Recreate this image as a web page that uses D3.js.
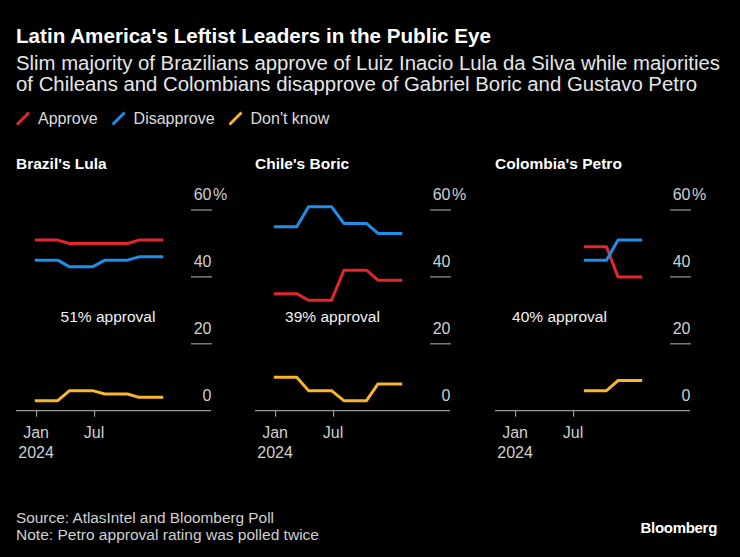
<!DOCTYPE html>
<html>
<head>
<meta charset="utf-8">
<script src="https://cdn.jsdelivr.net/npm/d3@7"></script>
<style>
  html, body { margin: 0; padding: 0; background: #000; }
  svg { display: block; font-family: "Liberation Sans", Arial, Helvetica, sans-serif; }
</style>
</head>
<body>
<svg id="chart" width="740" height="557"></svg>
<script>
// ---------------- data ----------------
const title = "Latin America's Leftist Leaders in the Public Eye";
const subtitleLines = [
  "Slim majority of Brazilians approve of Luiz Inacio Lula da Silva while majorities",
  "of Chileans and Colombians disapprove of Gabriel Boric and Gustavo Petro"
];
const seriesNames = ["Approve", "Disapprove", "Don't know"];
const seriesColors = ["#e3262a", "#1d8fe8", "#fbb52b"];
const panelTitles = ["Brazil's Lula", "Chile's Boric", "Colombia's Petro"];
const panelNotes = ["51% approval", "39% approval", "40% approval"];
// each poll drawn over its period [start, end]
const pollStarts = ["2023-12-28", "2024-04-15", "2024-08-04", "2024-11-19"];
const pollEnds   = ["2024-03-09", "2024-06-26", "2024-10-14", "2025-02-03"];
const brazilApprove    = [51, 50, 50, 51];
const brazilDisapprove = [45, 43, 45, 46];
const brazilDontKnow   = [3, 6, 5, 4];
const chileApprove     = [35, 33, 42, 39];
const chileDisapprove  = [55, 61, 56, 53];
const chileDontKnow    = [10, 6, 3, 8];
const colombiaApprove    = [null, null, 49, 40];
const colombiaDisapprove = [null, null, 45, 51];
const colombiaDontKnow   = [null, null, 6, 9];
const yTicks = [0, 20, 40, 60];
const xTickDates = ["2024-01-01", "2024-07-01"];
const xTickLabels = [["Jan", "2024"], ["Jul"]];
const xDomain = ["2023-10-30", "2025-07-03"];
const sourceText = "Source: AtlasIntel and Bloomberg Poll";
const noteText = "Note: Petro approval rating was polled twice";

// ---------------- layout ----------------
const panelData = [
  [brazilApprove, brazilDisapprove, brazilDontKnow],
  [chileApprove, chileDisapprove, chileDontKnow],
  [colombiaApprove, colombiaDisapprove, colombiaDontKnow]
];
const panelLefts = [16, 255, 495];
const panelW = 195;
const noteCenters = [92, 77.5, 64.5];
const subtitleWidths = [704, 681];
const parse = d3.timeParse("%Y-%m-%d");

const svg = d3.select("#chart");
svg.append("rect").attr("width", 740).attr("height", 557).attr("fill", "#000");

svg.append("text").attr("x", 16).attr("y", 43)
  .attr("fill", "#fff").attr("font-size", 20.5).attr("font-weight", "bold")
  .attr("textLength", 475).attr("lengthAdjust", "spacingAndGlyphs")
  .text(title);
subtitleLines.forEach((s, i) => {
  svg.append("text").attr("x", 16).attr("y", 69.5 + i * 21)
    .attr("fill", "#e6e6e6").attr("font-size", 19.5)
    .attr("textLength", subtitleWidths[i]).attr("lengthAdjust", "spacingAndGlyphs")
    .text(s);
});

// legend
const legend = svg.append("g");
let lx = 17;
seriesNames.forEach((n, i) => {
  legend.append("line").attr("x1", lx).attr("y1", 124.5).attr("x2", lx + 12).attr("y2", 112.5)
    .attr("stroke", seriesColors[i]).attr("stroke-width", 3);
  const t = legend.append("text").attr("x", lx + 21).attr("y", 123.5)
    .attr("fill", "#dcdcdc").attr("font-size", 16).text(n);
  lx += 21 + t.node().getComputedTextLength() + 15;
});

const x = d3.scaleTime().domain(xDomain.map(parse)).range([0, panelW]);
const y = d3.scaleLinear().domain([0, 60]).range([410.7, 210]);

panelData.forEach((series, p) => {
  const g = svg.append("g").attr("transform", `translate(${panelLefts[p]},0)`);
  g.append("text").attr("x", 0).attr("y", 169)
    .attr("fill", "#fff").attr("font-size", 15.5).attr("font-weight", "bold")
    .text(panelTitles[p]);

  // y ticks
  yTicks.forEach(v => {
    if (v !== 0) {
      g.append("line").attr("x1", 175).attr("x2", 196)
        .attr("y1", y(v)).attr("y2", y(v))
        .attr("stroke", "#9a9a9a").attr("stroke-width", 1.2);
    }
    g.append("text").attr("x", 195.5).attr("y", y(v) - 10)
      .attr("text-anchor", "end").attr("fill", "#cfcfcf").attr("font-size", 16)
      .text(v);
    if (v === 60) {
      g.append("text").attr("x", 197).attr("y", y(v) - 10)
        .attr("fill", "#cfcfcf").attr("font-size", 16).text("%");
    }
  });

  // x axis
  const axis = d3.axisBottom(x).tickValues(xTickDates.map(parse))
    .tickSize(6).tickFormat(() => "");
  const ag = g.append("g").attr("transform", `translate(0,${y(0)})`).call(axis);
  ag.select(".domain").attr("stroke", "#9a9a9a").attr("stroke-width", 1.2).attr("d", `M0,0H${panelW}`);
  ag.selectAll(".tick line").attr("stroke", "#9a9a9a").attr("stroke-width", 1.2);
  xTickDates.forEach((d, i) => {
    const t = g.append("text").attr("x", x(parse(d))).attr("y", 438)
      .attr("text-anchor", "middle").attr("fill", "#cfcfcf").attr("font-size", 16);
    xTickLabels[i].forEach((s, j) => {
      t.append("tspan").attr("x", x(parse(d))).attr("dy", j === 0 ? 0 : 20).text(s);
    });
  });

  // lines
  series.forEach((vals, si) => {
    const pts = [];
    vals.forEach((v, k) => {
      pts.push({ d: parse(pollStarts[k]), v });
      pts.push({ d: parse(pollEnds[k]), v });
    });
    const line = d3.line().defined(d => d.v !== null)
      .x(d => x(d.d)).y(d => y(d.v));
    g.append("path").attr("d", line(pts))
      .attr("fill", "none").attr("stroke", seriesColors[si])
      .attr("stroke-width", 3).attr("stroke-linejoin", "round");
  });

  g.append("text").attr("x", noteCenters[p]).attr("y", 322)
    .attr("text-anchor", "middle").attr("fill", "#f2f2f2").attr("font-size", 15.5)
    .text(panelNotes[p]);
});

// footer
svg.append("text").attr("x", 16).attr("y", 523).attr("fill", "#d0d0d0")
  .attr("font-size", 14).attr("textLength", 258).attr("lengthAdjust", "spacingAndGlyphs").text(sourceText);
svg.append("text").attr("x", 16).attr("y", 539.5).attr("fill", "#d0d0d0")
  .attr("font-size", 14).attr("textLength", 303).attr("lengthAdjust", "spacingAndGlyphs").text(noteText);
svg.append("text").attr("x", 717).attr("y", 533).attr("text-anchor", "end")
  .attr("fill", "#fff").attr("font-size", 15).attr("font-weight", "bold")
  .attr("letter-spacing", -0.3).text("Bloomberg");
</script>
</body>
</html>
